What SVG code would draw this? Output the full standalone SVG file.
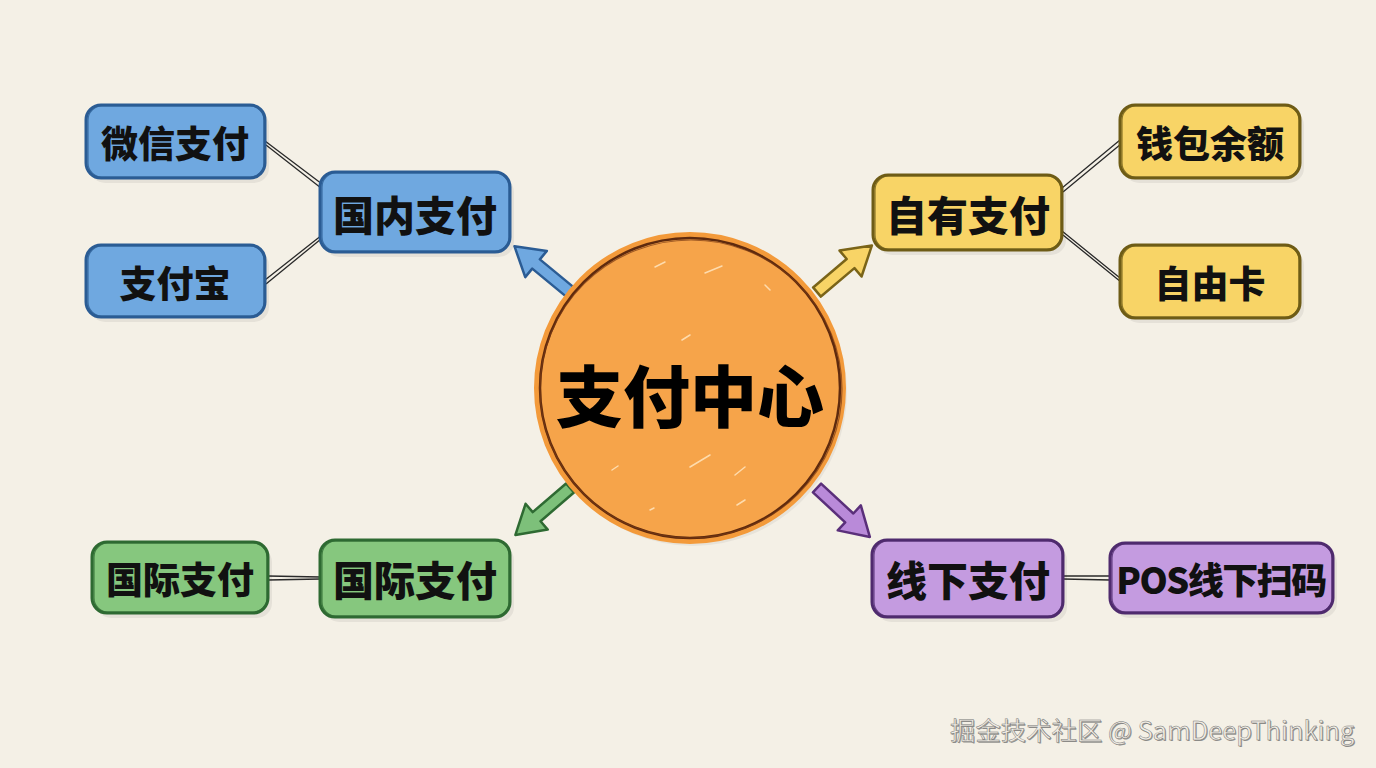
<svg xmlns="http://www.w3.org/2000/svg" width="1376" height="768" viewBox="0 0 1376 768">
<defs>
<style>
.lbl{font-family:"Noto Sans CJK SC","Noto Sans",sans-serif;font-weight:900;fill:#111;text-anchor:middle;dominant-baseline:central}
.s{font-size:37px}.m{font-size:41px}
.blue{fill:#6FA8E0;stroke:#2B5C94;stroke-width:3}
.yel{fill:#F8D466;stroke:#6E5C16;stroke-width:3}
.grn{fill:#86C77E;stroke:#2E6A32;stroke-width:3}
.pur{fill:#C49BE0;stroke:#4F2B6E;stroke-width:3}
.sk{fill:none;stroke-width:1.2;opacity:.8}
.conn{stroke:#2a2a2a;stroke-width:1.3;fill:none}
.shadow{fill:#000;opacity:.06}
</style>
<path id="arr" d="M0,-6 L44,-6 L44,-17 L72,0 L44,17 L44,6 L0,6 Z"/>
</defs>
<rect width="1376" height="768" fill="#F4F0E6"/>

<g id="connectors">
<path class="conn" d="M265,141 L322,184 M266,145 L321,188"/>
<path class="conn" d="M265,280 L322,235 M266,284 L321,239"/>
<path class="conn" d="M1062,188 L1120,140 M1063,192 L1121,144"/>
<path class="conn" d="M1062,231 L1120,278 M1063,235 L1121,282"/>
<path class="conn" d="M268,576 L320,577 M268,580 L320,579"/>
<path class="conn" d="M1063,576 L1110,576 M1063,579 L1110,580"/>
<use href="#arr" transform="translate(570,292) rotate(219.5)" fill="#6FA8E0" stroke="#2B5C94" stroke-width="2.5" stroke-linejoin="round"/>
<use href="#arr" transform="translate(817,292) rotate(-40.3)" fill="#F8D466" stroke="#7A6418" stroke-width="2.5" stroke-linejoin="round"/>
<use href="#arr" transform="translate(570,488) rotate(139.3)" fill="#7DC07A" stroke="#2E6A32" stroke-width="2.5" stroke-linejoin="round"/>
<use href="#arr" transform="translate(817,488) rotate(42.8)" fill="#B98AD9" stroke="#5A2F7A" stroke-width="2.5" stroke-linejoin="round"/>
</g>

<g id="center">
<circle cx="693" cy="392" r="154" fill="#000" opacity=".05"/>
<circle cx="690" cy="388" r="153" fill="#F6A44A" stroke="#F39A3A" stroke-width="6"/>
<circle cx="690" cy="388" r="150" fill="none" stroke="#5E2A0E" stroke-width="2.5"/>
<ellipse cx="691" cy="389" rx="151" ry="149" fill="none" stroke="#7A3A14" stroke-width="1.2" opacity=".7"/>
<g stroke="#FFE2B8" stroke-width="1.5" stroke-linecap="round" opacity=".9">
<path d="M655,267 L665,262 M705,273 L722,266 M765,285 L770,290 M682,340 L690,335 M690,467 L710,455 M735,475 L745,467 M612,470 L618,466 M737,505 L745,500 M650,510 L654,508"/>
</g>
<text class="lbl" x="690" y="392" style="font-size:67px;fill:#000">支付中心</text>
</g>

<g id="n-domestic">
<rect class="shadow" x="324" y="177" width="190" height="80" rx="15"/>
<rect class="blue" x="320" y="172" width="190" height="80" rx="15"/>
<rect class="sk" stroke="#2B5C94" x="322" y="173" width="187" height="78" rx="14"/>
<text class="lbl m" x="415" y="213">国内支付</text>
</g>
<g id="n-wechat">
<rect class="shadow" x="90" y="110" width="179" height="73" rx="15"/>
<rect class="blue" x="86" y="105" width="179" height="73" rx="15"/>
<rect class="sk" stroke="#2B5C94" x="88" y="106" width="176" height="71" rx="14"/>
<text class="lbl s" x="175" y="142">微信支付</text>
</g>
<g id="n-alipay">
<rect class="shadow" x="90" y="250" width="179" height="72" rx="15"/>
<rect class="blue" x="86" y="245" width="179" height="72" rx="15"/>
<rect class="sk" stroke="#2B5C94" x="88" y="246" width="176" height="70" rx="14"/>
<text class="lbl s" x="175" y="282">支付宝</text>
</g>

<g id="n-own">
<rect class="shadow" x="877" y="180" width="189" height="75" rx="15"/>
<rect class="yel" x="873" y="175" width="189" height="75" rx="15"/>
<rect class="sk" stroke="#6E5C16" x="875" y="176" width="186" height="73" rx="14"/>
<text class="lbl m" x="968" y="213">自有支付</text>
</g>
<g id="n-wallet">
<rect class="shadow" x="1124" y="110" width="180" height="73" rx="15"/>
<rect class="yel" x="1120" y="105" width="180" height="73" rx="15"/>
<rect class="sk" stroke="#6E5C16" x="1122" y="106" width="177" height="71" rx="14"/>
<text class="lbl s" x="1210" y="142">钱包余额</text>
</g>
<g id="n-card">
<rect class="shadow" x="1124" y="250" width="180" height="73" rx="15"/>
<rect class="yel" x="1120" y="245" width="180" height="73" rx="15"/>
<rect class="sk" stroke="#6E5C16" x="1122" y="246" width="177" height="71" rx="14"/>
<text class="lbl s" x="1210" y="282">自由卡</text>
</g>

<g id="n-intl">
<rect class="shadow" x="324" y="545" width="190" height="77" rx="15"/>
<rect class="grn" x="320" y="540" width="190" height="77" rx="15"/>
<rect class="sk" stroke="#2E6A32" x="322" y="541" width="187" height="75" rx="14"/>
<text class="lbl m" x="415" y="578">国际支付</text>
</g>
<g id="n-intl2">
<rect class="shadow" x="96" y="547" width="176" height="71" rx="15"/>
<rect class="grn" x="92" y="542" width="176" height="71" rx="15"/>
<rect class="sk" stroke="#2E6A32" x="94" y="543" width="173" height="69" rx="14"/>
<text class="lbl s" x="180" y="578">国际支付</text>
</g>

<g id="n-offline">
<rect class="shadow" x="876" y="545" width="191" height="77" rx="15"/>
<rect class="pur" x="872" y="540" width="191" height="77" rx="15"/>
<rect class="sk" stroke="#4F2B6E" x="874" y="541" width="188" height="75" rx="14"/>
<text class="lbl m" x="968" y="578">线下支付</text>
</g>
<g id="n-pos">
<rect class="shadow" x="1114" y="548" width="223" height="70" rx="15"/>
<rect class="pur" x="1110" y="543" width="223" height="70" rx="15"/>
<rect class="sk" stroke="#4F2B6E" x="1112" y="544" width="220" height="68" rx="14"/>
<text class="lbl" x="1221" y="578" style="font-size:36px;letter-spacing:-1.5px">POS线下扫码</text>
</g>

<g id="watermark" font-family="'Noto Sans CJK SC','Noto Sans',sans-serif" font-size="25.4">
<text x="951" y="741" fill="#555" opacity=".6">掘金技术社区 @ SamDeepThinking</text>
<text x="950" y="740" fill="#F1EDE4" stroke="#777" stroke-width="0.5">掘金技术社区 @ SamDeepThinking</text>
</g>
</svg>
